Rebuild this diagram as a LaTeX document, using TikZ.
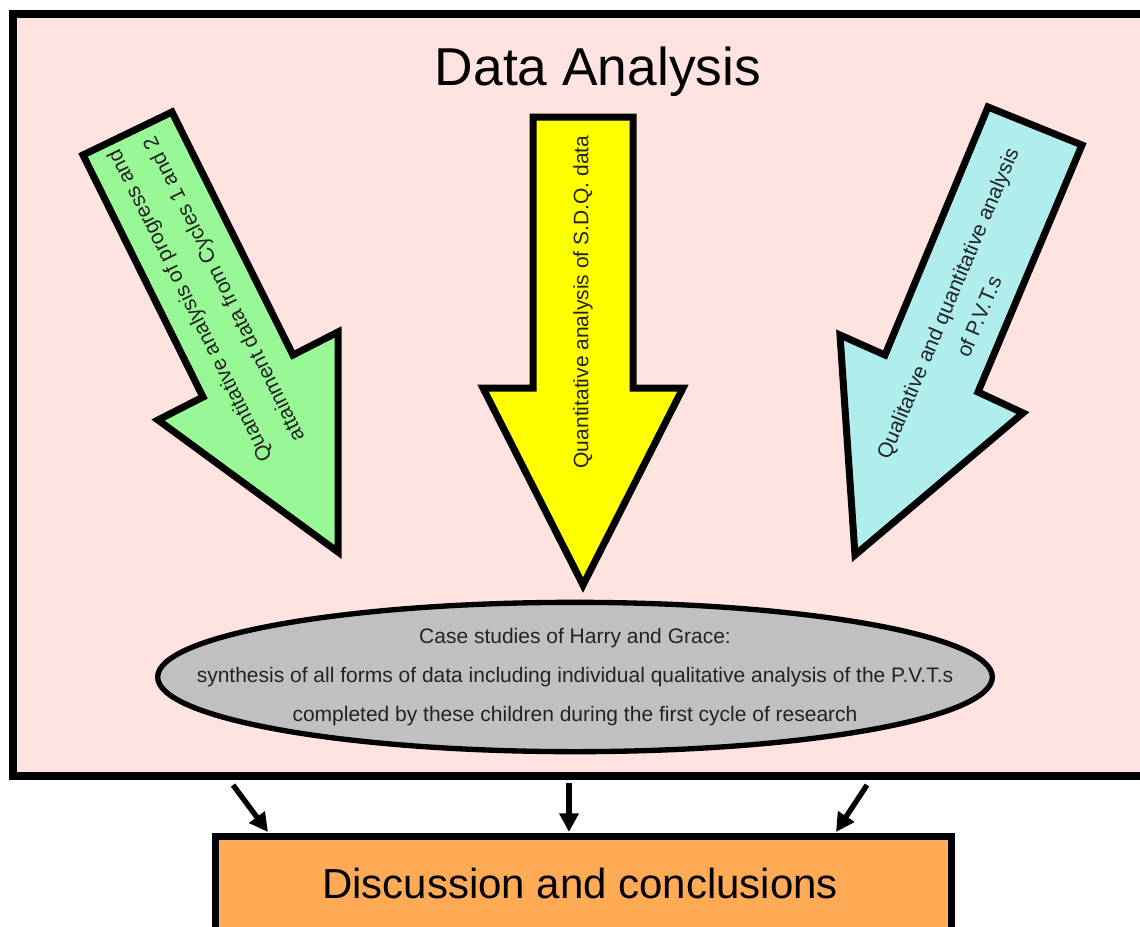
\documentclass[tikz,border=0pt]{standalone}
\usepackage{fontspec}
\setmainfont{Liberation Sans}
\usetikzlibrary{arrows.meta,shapes.geometric,fit}

\definecolor{panelpink}{RGB}{255,227,224}
\definecolor{arrowgreen}{RGB}{152,248,150}
\definecolor{arrowyellow}{RGB}{255,255,0}
\definecolor{arrowcyan}{RGB}{176,238,238}
\definecolor{casegray}{RGB}{192,192,192}
\definecolor{outcomeorange}{RGB}{255,170,85}
\definecolor{inkgray}{RGB}{35,35,35}

\begin{document}
\begin{tikzpicture}[x=0.75pt,y=-0.75pt,
  panel/.style={draw=black,line width=6pt,fill=panelpink,inner sep=0pt},
  bigarrow/.style={draw=black,line width=5.25pt,line join=miter},
  arrowtext/.style={font=\fontsize{15.75}{25.5}\selectfont,align=center,text=inkgray,inner sep=0pt},
  casebox/.style={ellipse,draw=black,line width=4pt,fill=casegray,inner sep=0pt,
    minimum width=626pt,minimum height=112pt},
  casetext/.style={font=\fontsize{15.75}{29}\selectfont,align=center,text=inkgray,inner sep=0pt},
  outcome/.style={draw=black,line width=5.25pt,fill=outcomeorange,inner sep=0pt},
  flow/.style={line width=4pt,-{Triangle[length=14pt,width=14pt]}}]

\useasboundingbox (0,0) rectangle (1140,926);
\clip (0,0) rectangle (1140,926);
\fill[white] (0,0) rectangle (1140,926);

% main panel
\node[panel,fit={(12.5,13.5) (1175,775.5)}] (frame) {};
\node[anchor=base,font=\fontsize{40}{48}\selectfont] (title) at (598,85) {Data Analysis};

% three block arrows feeding the case studies
\draw[bigarrow,fill=arrowgreen]
  (83,155) -- (172,112) -- (293,355) -- (338,332) -- (338,552) -- (158,420) -- (203,397) -- cycle;
\draw[bigarrow,fill=arrowyellow]
  (533,117) -- (633,117) -- (633,388) -- (683,388) -- (583,585) -- (483,388) -- (533,388) -- cycle;
\draw[bigarrow,fill=arrowcyan]
  (988,107) -- (1082,145) -- (978,392) -- (1023,413) -- (855,555) -- (840,335) -- (885,355) -- cycle;

\node[arrowtext,font=\fontsize{15.75}{28.5}\selectfont,rotate=116.4] (progress) at (208,297)
  {Quantitative analysis of progress and\\attainment data from Cycles 1 and 2};
\node[arrowtext,rotate=90] (sdq) at (583,302)
  {Quantitative analysis of S.D.Q. data};
\node[arrowtext,rotate=67.2] (pvt) at (963,310)
  {Qualitative and quantitative analysis\\of P.V.T.s};

% case studies
\node[casebox] (cases) at (575,677) {};
\node[casetext] (casetext) at (cases.center)
  {Case studies of Harry and Grace:\\
   synthesis of all forms of data including individual qualitative analysis of the P.V.T.s\\
   completed by these children during the first cycle of research};

% outcome box
\node[outcome,fit={(215.5,836) (951.5,960)}] (concl) {};
\node[anchor=base,font=\fontsize{31.5}{38}\selectfont] (concltext) at (580,898) {Discussion and conclusions};

% connectors from the panel to the outcome box
\coordinate (f1) at (233,785);
\coordinate (f2) at (569,783);
\coordinate (f3) at (867,785);
\coordinate (c1) at (268,832);
\coordinate (c2) at (569,832);
\coordinate (c3) at (836,832);
\draw[flow] (f1) -- (c1);
\draw[flow] (f2) -- (c2);
\draw[flow] (f3) -- (c3);
\end{tikzpicture}
\end{document}
